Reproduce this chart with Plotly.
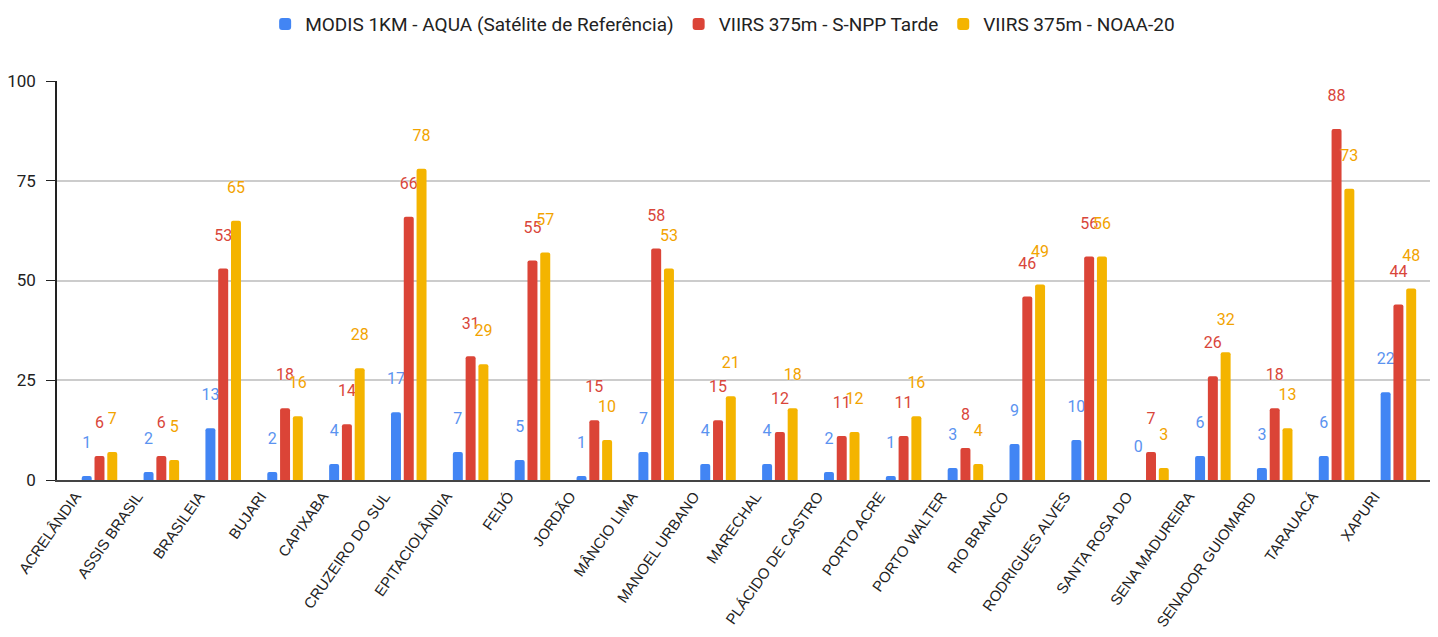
import plotly.graph_objects as go

categories = ["ACRELÂNDIA", "ASSIS BRASIL", "BRASILEIA", "BUJARI", "CAPIXABA",
              "CRUZEIRO DO SUL", "EPITACIOLÂNDIA", "FEIJÓ", "JORDÃO", "MÂNCIO LIMA",
              "MANOEL URBANO", "MARECHAL", "PLÁCIDO DE CASTRO", "PORTO ACRE",
              "PORTO WALTER", "RIO BRANCO", "RODRIGUES ALVES", "SANTA ROSA DO",
              "SENA MADUREIRA", "SENADOR GUIOMARD", "TARAUACÁ", "XAPURI"]
modis = [1, 2, 13, 2, 4, 17, 7, 5, 1, 7, 4, 4, 2, 1, 3, 9, 10, 0, 6, 3, 6, 22]
snpp = [6, 6, 53, 18, 14, 66, 31, 55, 15, 58, 15, 12, 11, 11, 8, 46, 56, 7, 26, 18, 88, 44]
noaa = [7, 5, 65, 16, 28, 78, 29, 57, 10, 53, 21, 18, 12, 16, 4, 49, 56, 3, 32, 13, 73, 48]
y_ticks = [0, 25, 50, 75, 100]

series = [
    ("MODIS 1KM - AQUA (Satélite de Referência)", modis, "#4285F4", "#5B93F0"),
    ("VIIRS 375m - S-NPP Tarde", snpp, "#DB4437", "#D9463A"),
    ("VIIRS 375m - NOAA-20", noaa, "#F4B400", "#F2A300"),
]

fig = go.Figure()
for name, vals, col, tcol in series:
    fig.add_trace(go.Bar(
        name=name, x=categories, y=vals,
        marker=dict(color=col, cornerradius=2, line=dict(width=0)),
        text=[f"{v}<br>&nbsp;" for v in vals],
        textposition="outside",
        cliponaxis=False,
        constraintext="none",
        textfont=dict(family="Roboto", size=16, color=tcol,
                      shadow="0px 0px 2px white"),
        hoverinfo="skip",
    ))

fig.update_layout(
    width=1430, height=629,
    margin=dict(l=49, r=0, t=73, b=157, autoexpand=False),
    paper_bgcolor="white", plot_bgcolor="white",
    barmode="group", bargap=0.38, bargroupgap=0.22,
    font=dict(family="Roboto", size=16, color="#222"),
    legend=dict(orientation="h", x=0.482, xanchor="center", y=1.19, yref="paper",
                yanchor="top", font=dict(family="Roboto", size=19, color="#222"),
                traceorder="normal"),
    showlegend=True,
)
fig.update_xaxes(
    range=[-0.687, 21.64], tickangle=-55,
    tickfont=dict(family="Liberation Sans", size=15, color="#222"),
    showline=True, linecolor="#444", linewidth=1.5, showgrid=False,
    ticks="", fixedrange=True, automargin=False, ticklabelshift=-24,
)
fig.update_yaxes(
    range=[0, 100], tickvals=y_ticks, ticks="outside", ticklen=9, tickcolor="#222",
    tickfont=dict(family="Roboto", size=17, color="#222"),
    showline=True, linecolor="#222", linewidth=1.5, automargin=False,
    showgrid=True, gridcolor="#cccccc", gridwidth=1.5, zeroline=False,
    ticklabelstandoff=7,
)

fig.write_html("out.html")
